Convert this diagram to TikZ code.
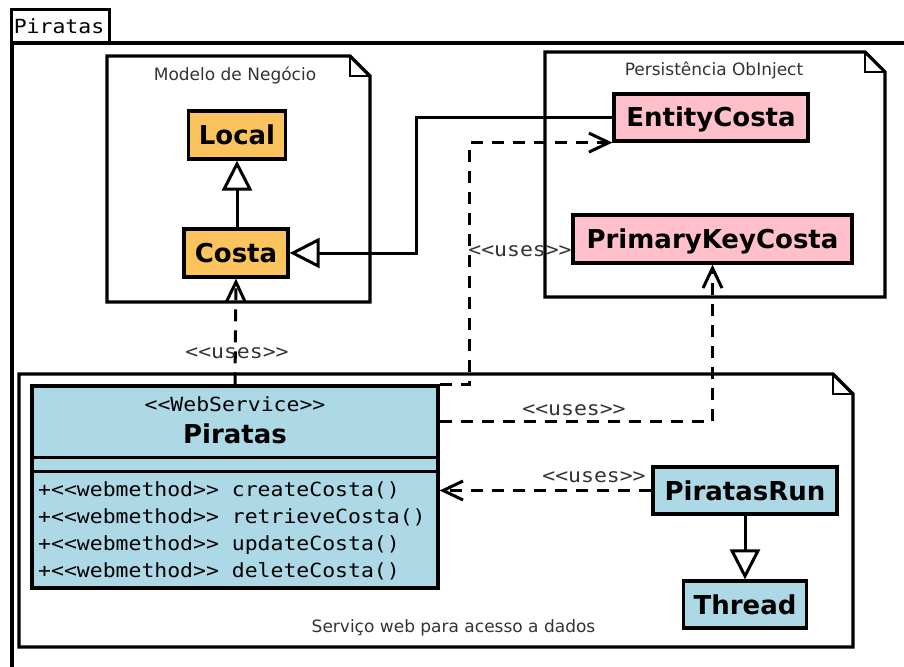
\documentclass[tikz,border=0pt]{standalone}
\usepackage{fontspec}
\setmainfont{DejaVu Sans}
\setmonofont{DejaVu Sans Mono}[FakeStretch=1.1]
\usetikzlibrary{arrows.meta}

\definecolor{clsblue}{RGB}{173,216,230}
\definecolor{clsorange}{RGB}{251,195,94}
\definecolor{clspink}{RGB}{255,192,203}
\definecolor{titlegray}{RGB}{51,51,51}

\begin{document}
\begin{tikzpicture}[x=1pt, y=-1pt,
  cls/.style={draw, line width=3.2pt, inner sep=0pt, text height=19pt, text depth=0pt,
              font=\fontsize{26}{30}\selectfont\bfseries},
  pkg/.style={draw, line width=3.2pt, fill=white, line join=miter},
  fold/.style={draw, line width=1.8pt},
  pkgtitle/.style={font=\fontsize{17}{20}\selectfont, text=titlegray, inner sep=0pt, anchor=base},
  mono/.style={font=\fontsize{19.5}{23}\selectfont\ttfamily, inner sep=0pt, anchor=base},
  uselabel/.style={mono, text=titlegray},
  gen/.style={line width=3pt, -{Triangle[open, length=30pt, width=30pt]}},
  dep/.style={line width=3pt, dash pattern=on 12pt off 9pt,
              -{Straight Barb[length=20pt, width=19pt]}}
]
\useasboundingbox (0,0) rectangle (904,666);
\clip (0,0) rectangle (904,666);
\fill[white] (0,0) rectangle (904,666);

% outer frame with its name tab
\draw[line width=3.2pt] (12,43) rectangle (930,700);
\draw[line width=3pt, fill=white] (11,10) rectangle (109,43);
\node[mono] (tab) at (59,34) {Piratas};

% packages (folded top-right corner)
\draw[pkg] (107,56) -- (350,56) -- (370,76) -- (370,302) -- (107,302) -- cycle;
\draw[fold] (350,56) -- (350,76) -- (370,76);
\node[pkgtitle] (pkgmodel) at (235,81) {Modelo de Negócio};

\draw[pkg] (545,52) -- (865,52) -- (885,72) -- (885,297) -- (545,297) -- cycle;
\draw[fold] (865,52) -- (865,72) -- (885,72);
\node[pkgtitle] (pkgpersist) at (714,76) {Persistência ObInject};

\draw[pkg] (19,374) -- (833,374) -- (853,394) -- (853,647) -- (19,647) -- cycle;
\draw[fold] (833,374) -- (833,394) -- (853,394);
\node[pkgtitle] (pkgweb) at (453.5,632) {Serviço web para acesso a dados};

% classes
\node[cls, fill=clsorange, minimum width=97pt, minimum height=48pt] (local) at (237,135) {Local};
\node[cls, fill=clsorange, minimum width=104pt, minimum height=48pt] (costa) at (236,253) {Costa};
\node[cls, fill=clspink, minimum width=194pt, minimum height=47pt] (ent) at (711,117.5) {EntityCosta};
\node[cls, fill=clspink, minimum width=279pt, minimum height=48pt] (pk) at (712.5,239) {PrimaryKeyCosta};
\node[cls, fill=clsblue, minimum width=184pt, minimum height=47pt] (run) at (745,490.5) {PiratasRun};
\node[cls, fill=clsblue, minimum width=123pt, minimum height=47pt] (thread) at (745,604.5) {Thread};

% web service class with its compartments
\node[draw, line width=3.2pt, fill=clsblue, inner sep=0pt,
      minimum width=406pt, minimum height=202pt] (pir) at (235,487) {};
\draw[line width=3.2pt] ([yshift=-73pt]pir.north west) -- ([yshift=-73pt]pir.north east);
\draw[line width=3.2pt] ([yshift=-87pt]pir.north west) -- ([yshift=-87pt]pir.north east);
\node[mono] (stereo) at (235,411) {<{}<WebService>{}>};
\node[font=\fontsize{26}{30}\selectfont\bfseries, inner sep=0pt, anchor=base] (pname) at (235,443) {Piratas};
\node[mono, anchor=base west] (m1) at (38,496) {+<{}<webmethod>{}> createCosta()};
\node[mono, anchor=base west] (m2) at (38,523) {+<{}<webmethod>{}> retrieveCosta()};
\node[mono, anchor=base west] (m3) at (38,550) {+<{}<webmethod>{}> updateCosta()};
\node[mono, anchor=base west] (m4) at (38,577) {+<{}<webmethod>{}> deleteCosta()};

% generalizations
\draw[gen] (costa.north -| local) -- (local.south);
\draw[gen] (ent.west) -- ++(-196,0) |- (costa.east);
\draw[gen] (run) -- (thread);

% dependencies
\draw[dep] (pir.north) -- (costa.south);
\draw[dep] (pir.north east) -- ++(30,0) |- (ent.south west);
\draw[dep] ([yshift=-37pt]pir.north east) -| (pk.south);
\draw[dep] (run.west) -- (run.west -| pir.east);

\node[uselabel] (u1) at (237,358) {<{}<uses>{}>};
\node[uselabel] (u2) at (520,256) {<{}<uses>{}>};
\node[uselabel] (u3) at (574,415) {<{}<uses>{}>};
\node[uselabel] (u4) at (594,482) {<{}<uses>{}>};
\end{tikzpicture}
\end{document}
